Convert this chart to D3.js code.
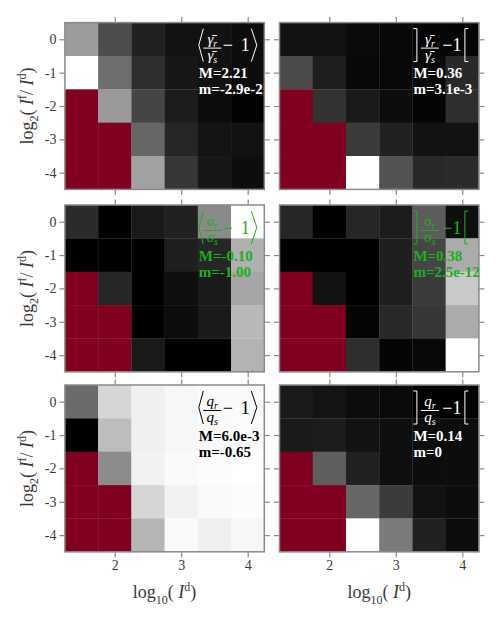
<!DOCTYPE html>
<html>
<head>
<meta charset="utf-8">
<script src="https://cdn.jsdelivr.net/npm/d3@7"></script>
<style>
  body { margin: 0; background: #fff; }
  svg text { font-family: "Liberation Serif", "Times New Roman", serif; }
</style>
</head>
<body>
<div id="chart"></div>
<script>
// cell centres
const xCenters = [1.5, 2, 2.5, 3, 3.5, 4];
const yCenters = [0, -1, -2, -3, -4];
const xTicks = [2, 3, 4];
const yTicks = [0, -1, -2, -3, -4];

// grey level of every cell (0 = m, 1 = M), rows y=0..-4, null = no data
const gammaMean = [
  [0.61, 0.30, 0.13, 0.07, 0.07, 0.05],
  [1.00, 0.43, 0.18, 0.09, 0.07, 0.05],
  [null, 0.60, 0.27, 0.11, 0.05, 0.01],
  [null, null, 0.40, 0.15, 0.08, 0.07],
  [null, null, 0.63, 0.21, 0.09, 0.05]
];
const gammaRange = [
  [0.07, 0.07, 0.04, 0.03, 0.02, 0.02],
  [0.29, 0.12, 0.03, 0.03, 0.04, 0.16],
  [null, 0.20, 0.10, 0.05, 0.02, 0.18],
  [null, null, 0.23, 0.13, 0.07, 0.07],
  [null, null, 1.00, 0.32, 0.16, 0.17]
];
const sigmaMean = [
  [0.17, 0.00, 0.10, 0.13, 0.54, 1.00],
  [0.00, 0.00, 0.00, 0.12, 0.15, 0.69],
  [null, 0.15, 0.00, 0.06, 0.10, 0.65],
  [null, null, 0.00, 0.05, 0.10, 0.72],
  [null, null, 0.10, 0.00, 0.00, 0.70]
];
const sigmaRange = [
  [0.15, 0.00, 0.15, 0.11, 0.36, 0.06],
  [0.00, 0.00, 0.00, 0.12, 0.27, 0.67],
  [null, 0.07, 0.00, 0.12, 0.23, 0.79],
  [null, null, 0.02, 0.16, 0.21, 0.67],
  [null, null, 0.18, 0.02, 0.03, 1.00]
];
const qMean = [
  [0.42, 0.84, 0.94, 0.97, 0.98, 0.98],
  [0.00, 0.74, 0.94, 0.97, 0.98, 0.99],
  [null, 0.55, 0.95, 0.98, 0.99, 1.00],
  [null, null, 0.84, 0.95, 0.98, 0.99],
  [null, null, 0.71, 0.98, 0.94, 0.97]
];
const qRange = [
  [0.10, 0.08, 0.05, 0.04, 0.00, 0.00],
  [0.10, 0.11, 0.07, 0.06, 0.05, 0.05],
  [null, 0.37, 0.13, 0.06, 0.05, 0.05],
  [null, null, 0.40, 0.23, 0.07, 0.05],
  [null, null, 1.00, 0.48, 0.13, 0.05]
];

const panelValues = [gammaMean, gammaRange, sigmaMean, sigmaRange, qMean, qRange];
const panelSymbols = ['γ̄', 'γ̄', 'σ', 'σ', 'q', 'q'];
const statMax = ['2.21', '0.36', '-0.10', '0.38', '6.0e-3', '0.14'];
const statMin = ['-2.9e-2', '3.1e-3', '-1.00', '2.5e-12', '-0.65', '0'];

const W = 498, H = 618;
const colLeft = [64.9, 279.5];
const rowTop = [22.6, 205, 385];
const pw = 199.4, ph = 166.8;
const textColor = ['#fff', '#fff', '#1fae1f', '#1fae1f', '#000', '#fff'];
const nanColor = '#800020';
const frameColor = '#8a8a8a';
const inkColor = '#3a3a3a';
const serif = '"Liberation Serif", "Times New Roman", serif';

const svg = d3.select('#chart').append('svg')
  .attr('width', W)
  .attr('height', H)
  .style('background', '#fff');

const grey = d3.scaleLinear().domain([0, 1]).range(['#000', '#fff']);

function drawPanel(i) {
  const col = i % 2, row = Math.floor(i / 2);
  const L = colLeft[col], T = rowTop[row];
  const R = L + pw, B = T + ph;
  const x = d3.scaleLinear().domain([1.25, 4.25]).range([L, R]);
  const y = d3.scaleLinear().domain([0.5, -4.5]).range([T, B]);
  const g = svg.append('g');

  const cells = [];
  panelValues[i].forEach((r, ri) => r.forEach((v, ci) => {
    cells.push({ x: xCenters[ci], y: yCenters[ri], v: v });
  }));

  g.selectAll('rect.cell')
    .data(cells)
    .enter()
    .append('rect')
    .attr('class', 'cell')
    .attr('x', d => x(d.x - 0.25))
    .attr('y', d => y(d.y + 0.5))
    .attr('width', d => x(d.x + 0.25) - x(d.x - 0.25) + 0.3)
    .attr('height', d => y(d.y - 0.5) - y(d.y + 0.5) + 0.3)
    .attr('fill', d => d.v === null ? nanColor : grey(d.v));

  // axes, ticks on all four sides
  const axes = [
    [d3.axisBottom(x).tickValues(xTicks), `translate(0,${B})`, row === 2],
    [d3.axisTop(x).tickValues(xTicks), `translate(0,${T})`, false],
    [d3.axisLeft(y).tickValues(yTicks), `translate(${L},0)`, col === 0],
    [d3.axisRight(y).tickValues(yTicks), `translate(${R},0)`, false]
  ];
  axes.forEach(([ax, tr, labels]) => {
    ax.tickSizeInner(5.5).tickSizeOuter(0).tickPadding(3)
      .tickFormat(labels ? (d => String(d)) : '');
    const a = g.append('g').attr('transform', tr).call(ax);
    a.select('.domain').remove();
    a.selectAll('line').attr('stroke', frameColor).attr('stroke-width', 1.2);
    a.selectAll('text')
      .attr('fill', inkColor)
      .style('font-family', serif)
      .style('font-size', '14px');
  });

  g.append('rect')
    .attr('x', L).attr('y', T)
    .attr('width', pw).attr('height', ph)
    .attr('fill', 'none')
    .attr('stroke', frameColor)
    .attr('stroke-width', 1.5);

  // formula annotation
  const c = textColor[i];
  const angle = col === 0;
  const x0 = R - 65.5;
  const bt = T + 6, bb = T + 39, bm = (bt + bb) / 2;
  const ann = g.append('g');
  const br = ann.append('path').attr('fill', 'none').attr('stroke', c).attr('stroke-width', 1);
  const br2 = ann.append('path').attr('fill', 'none').attr('stroke', c).attr('stroke-width', 1);
  if (angle) {
    br.attr('d', `M${x0 + 4.5},${bt} L${x0},${bm} L${x0 + 4.5},${bb}`);
    br2.attr('d', `M${R - 13},${bt} L${R - 7.5},${bm} L${R - 13},${bb}`);
  } else {
    br.attr('d', `M${x0},${bt} H${x0 + 3.5} V${bb} H${x0}`);
    br2.attr('d', `M${R - 10.5},${bt} H${R - 14} V${bb} H${R - 10.5}`);
  }
  const fc = angle ? R - 52 : R - 49;
  const sym = panelSymbols[i];
  [['r', T + 21], ['s', T + 37]].forEach(([sub, yy]) => {
    const t = ann.append('text')
      .attr('x', fc).attr('y', yy)
      .attr('text-anchor', 'middle')
      .attr('fill', c)
      .style('font-family', serif)
      .style('font-style', 'italic')
      .style('font-size', '15px');
    t.append('tspan').text(sym);
    t.append('tspan').attr('dy', 3).style('font-size', '10px').text(sub);
  });
  ann.append('line')
    .attr('x1', fc - 9).attr('x2', fc + 9)
    .attr('y1', T + 25.5).attr('y2', T + 25.5)
    .attr('stroke', c).attr('stroke-width', 1);
  ann.append('text')
    .attr('x', angle ? R - 36.5 : R - 31.5).attr('y', T + 28.5)
    .attr('text-anchor', 'middle').attr('fill', c)
    .style('font-family', serif)
    .style('font-size', '18px').text('−');
  ann.append('text')
    .attr('x', angle ? R - 19 : R - 22).attr('y', T + 28.5)
    .attr('text-anchor', 'middle').attr('fill', c)
    .style('font-family', serif)
    .style('font-size', '18px').text('1');

  [['M=' + statMax[i], T + 55.5], ['m=' + statMin[i], T + 71.5]].forEach(([s, yy]) => {
    ann.append('text')
      .attr('x', x0).attr('y', yy)
      .attr('fill', c)
      .style('font-family', serif)
      .style('font-weight', 'bold')
      .style('font-size', '15px')
      .text(s);
  });

  // axis titles
  if (col === 0) {
    const cy = (T + B) / 2;
    const t = svg.append('text')
      .attr('transform', `translate(33,${cy}) rotate(-90)`)
      .attr('text-anchor', 'middle')
      .attr('fill', inkColor)
      .style('font-family', serif)
      .style('font-size', '18px');
    t.append('tspan').text('log');
    t.append('tspan').attr('dy', 5).style('font-size', '12px').text('2');
    t.append('tspan').attr('dy', -5).text('( ');
    t.append('tspan').style('font-style', 'italic').text('I');
    t.append('tspan').attr('dy', -7).style('font-size', '12px').text('f');
    t.append('tspan').attr('dy', 7).text('/ ');
    t.append('tspan').style('font-style', 'italic').text('I');
    t.append('tspan').attr('dy', -7).style('font-size', '12px').text('d');
    t.append('tspan').attr('dy', 7).text(')');
  }
  if (row === 2) {
    const t = svg.append('text')
      .attr('x', (L + R) / 2).attr('y', 598)
      .attr('text-anchor', 'middle')
      .attr('fill', inkColor)
      .style('font-family', serif)
      .style('font-size', '18px');
    t.append('tspan').text('log');
    t.append('tspan').attr('dy', 6).style('font-size', '12px').text('10');
    t.append('tspan').attr('dy', -6).text('( ');
    t.append('tspan').style('font-style', 'italic').text('I');
    t.append('tspan').attr('dy', -7).style('font-size', '12px').text('d');
    t.append('tspan').attr('dy', 7).text(')');
  }
}

panelValues.forEach((v, i) => drawPanel(i));
</script>
</body>
</html>
